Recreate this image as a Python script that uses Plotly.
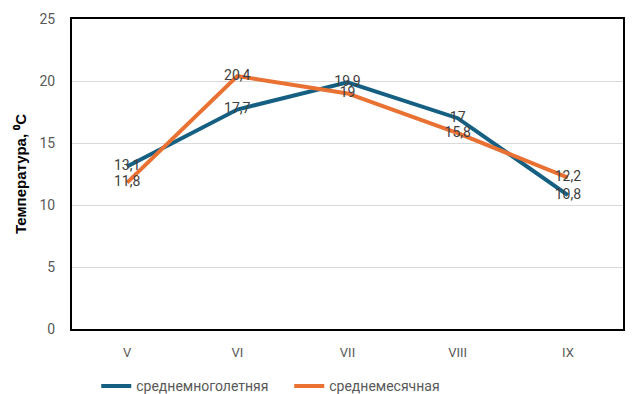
import plotly.graph_objects as go

months = ["V", "VI", "VII", "VIII", "IX"]
long_term = [13.1, 17.7, 19.9, 17, 10.8]
monthly = [11.8, 20.4, 19, 15.8, 12.2]
long_term_labels = ["13,1", "17,7", "19,9", "17", "10,8"]
monthly_labels = ["11,8", "20,4", "19", "15,8", "12,2"]

BLUE = "#156082"
ORANGE = "#E97132"
LABEL_FONT = dict(family="Roboto", size=14, color="#404040")

fig = go.Figure()
fig.add_trace(go.Scatter(
    x=months, y=long_term, name="среднемноголетняя",
    mode="lines+text", text=long_term_labels, textposition="middle center",
    line=dict(color=BLUE, width=4), textfont=LABEL_FONT,
))
fig.add_trace(go.Scatter(
    x=months, y=monthly, name="среднемесячная",
    mode="lines+text", text=monthly_labels, textposition="middle center",
    line=dict(color=ORANGE, width=4), textfont=LABEL_FONT,
))

fig.update_layout(
    width=633, height=394,
    margin=dict(l=72, r=10, t=19, b=65, autoexpand=False),
    paper_bgcolor="white", plot_bgcolor="white",
    font=dict(family="Roboto", size=13, color="#595959"),
    showlegend=True,
    legend=dict(orientation="h", x=0.044, xanchor="left", y=-0.185, yanchor="middle",
                font=dict(family="Roboto", size=14, color="#595959"),
                entrywidth=148, itemwidth=30),
    xaxis=dict(range=[-0.5, 4.5], showline=True, linecolor="#000000", linewidth=2,
               mirror=True, showgrid=False, ticks="",
               automargin=False, ticklabelstandoff=10,
               tickfont=dict(size=13, color="#595959")),
    yaxis=dict(range=[0, 25], dtick=5, showline=True, linecolor="#000000", linewidth=2,
               mirror=True, showgrid=True, gridcolor="#d9d9d9", gridwidth=1.2,
               zeroline=False, ticks="", ticklabelstandoff=12, automargin=False,
               tickfont=dict(size=14, color="#595959"),
               title=dict(text="Температура, ⁰С",
                          font=dict(family="Liberation Sans", size=15, color="black", weight="bold"),
                          standoff=9)),
)

fig.add_annotation(text="<b>Месяц</b>", xref="paper", yref="paper",
                   x=1.02, y=-0.125, xanchor="left", yanchor="middle", showarrow=False,
                   font=dict(family="Liberation Sans", size=15, color="black"))

fig.write_html("out.html")
